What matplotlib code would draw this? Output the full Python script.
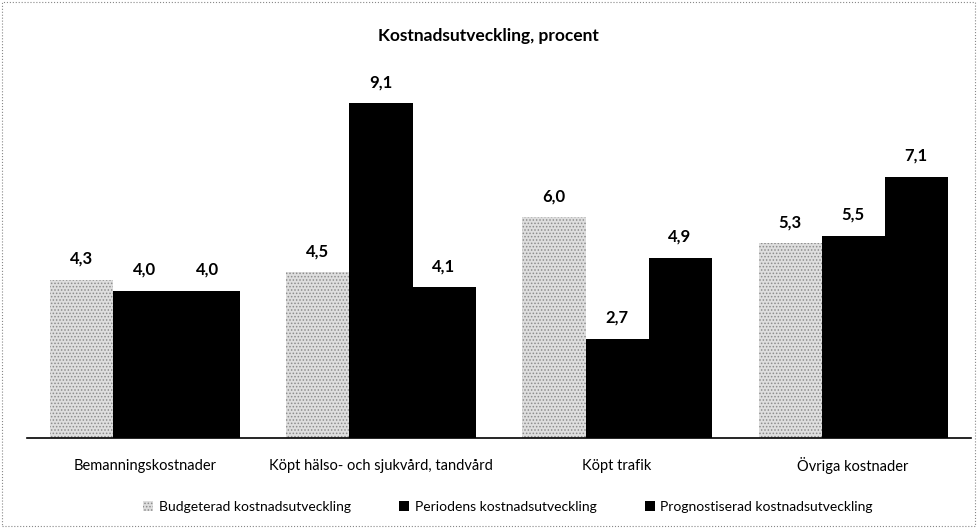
import matplotlib
matplotlib.use("Agg")
import matplotlib.pyplot as plt
from matplotlib.patches import Rectangle
import numpy as np

plt.rcParams['font.family'] = ['Lato', 'DejaVu Sans']
plt.rcParams['hatch.linewidth'] = 0.7

categories = ['Bemanningskostnader', 'Köpt hälso- och sjukvård, tandvård', 'Köpt trafik', 'Övriga kostnader']
budget = [4.3, 4.5, 6.0, 5.3]
period = [4.0, 9.1, 2.7, 5.5]
prognos = [4.0, 4.1, 4.9, 7.1]
series_names = ['Budgeterad kostnadsutveckling', 'Periodens kostnadsutveckling',
                'Prognostiserad kostnadsutveckling']

fig = plt.figure(figsize=(9.77, 5.28), dpi=100)
ax = fig.add_axes([0.0276, 0.1705, 0.9663, 0.697])

x = np.arange(len(categories))
w = 0.267

b1 = ax.bar(x - w, budget, w, color='#dedede', edgecolor='#8c8c8c', hatch='.....',
            linewidth=0, label=series_names[0])
b2 = ax.bar(x, period, w, color='black', label=series_names[1])
b3 = ax.bar(x + w, prognos, w, color='black', label=series_names[2])

for bars in (b1, b2, b3):
    for r in bars:
        h = r.get_height()
        ax.text(r.get_x() + r.get_width() / 2, h + 0.35, f'{h:.1f}'.replace('.', ','),
                ha='center', va='bottom', fontsize=12, fontweight='bold')

ax.set_xlim(-0.5, 3.5)
ax.set_ylim(0, 10)
ax.set_xticks(x)
ax.set_xticklabels(categories, fontsize=10.5, va='center')
ax.tick_params(axis='x', length=0, pad=20)
ax.set_yticks([])
for s in ['top', 'right', 'left']:
    ax.spines[s].set_visible(False)
ax.spines['bottom'].set_linewidth(1.2)

fig.text(0.5, 0.932, 'Kostnadsutveckling, procent', ha='center', va='center',
         fontsize=12.5, fontweight='bold')

fig.legend(handles=[b1, b2, b3], labels=series_names, loc='center',
           bbox_to_anchor=(0.52, 0.04), ncol=3, frameon=False, fontsize=10,
           handlelength=0.7, handleheight=0.7, columnspacing=3.5, handletextpad=0.4)

fig.patches.append(Rectangle((0.002, 0.003), 0.996, 0.993, transform=fig.transFigure,
                             fill=False, edgecolor='#888888', linestyle=':', linewidth=0.8))

fig.savefig('out.png', dpi=100)
